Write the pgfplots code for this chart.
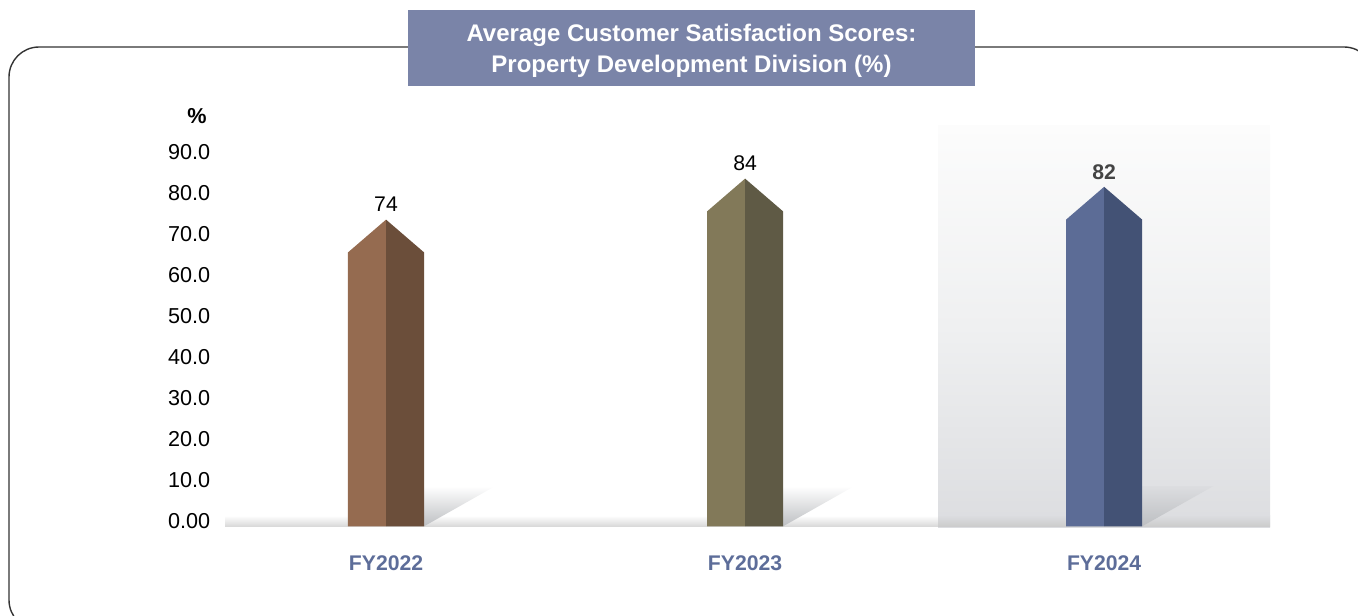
\documentclass[border=0pt]{standalone}
\usepackage{pgfplots}
\pgfplotsset{compat=1.18}
\usepackage{fontspec}
\setmainfont{Liberation Sans}
\definecolor{frame}{HTML}{333333}
\definecolor{titlebox}{HTML}{7A84A8}
\definecolor{fylab}{HTML}{5D6D99}
\definecolor{brL}{HTML}{956B50}
\definecolor{brR}{HTML}{6B4E3A}
\definecolor{olL}{HTML}{827959}
\definecolor{olR}{HTML}{5F5A45}
\definecolor{blL}{HTML}{5C6C96}
\definecolor{blR}{HTML}{435275}
\definecolor{hlTop}{HTML}{FCFCFC}
\definecolor{hlMid}{HTML}{EFF0F1}
\definecolor{hlBot}{HTML}{DCDDE0}
\definecolor{shad}{HTML}{BDBFC2}
\definecolor{numdark}{HTML}{444444}
\begin{document}
\begin{tikzpicture}
\path[use as bounding box] (0,0) rectangle (679pt,-307.5pt);
\begin{scope}
\clip (0,0) rectangle (679pt,-307.5pt);
\begin{scope}[x=0.5pt,y=-0.5pt]
\draw[frame, line width=0.7pt, rounded corners=15pt] (9,47) rectangle (1374,630);
\fill[titlebox] (408,10) rectangle (975,86);
\node[text=white, font=\bfseries\fontsize{12}{15.5}\selectfont, align=center] at (691.5,51) {Average Customer Satisfaction Scores:\\Property Development Division (\%)};
\node[font=\bfseries\fontsize{10.8}{13}\selectfont] at (197,116) {\%};
\end{scope}
\end{scope}
\begin{axis}[
  at={(112.5pt,-265.6pt)}, anchor=south west,
  scale only axis, width=522.5pt, height=202.95pt,
  xmin=-0.4485, xmax=2.462, ymin=-2, ymax=97,
  clip=false,
  axis line style={draw=none},
  major tick length=0pt,
  ytick={0,10,20,30,40,50,60,70,80,90},
  yticklabels={0.00,10.0,20.0,30.0,40.0,50.0,60.0,70.0,80.0,90.0},
  xtick={0,1,2},
  xticklabels={FY2022,FY2023,FY2024},
  /pgf/number format/assume math mode=true,
  yticklabel style={font=\fontsize{10.8}{13}\selectfont, anchor=east, xshift=-3.9pt, yshift=0.8pt},
  xticklabel style={font=\bfseries\fontsize{10.6}{13}\selectfont, text=fylab, anchor=north, yshift=-8.8pt},
]
% highlight background for FY2024
\fill[top color=hlTop, bottom color=hlBot, middle color=hlMid] (axis cs:1.5376,-1) rectangle (axis cs:2.462,97);
% baseline band
\fill[top color=white, bottom color=black!15] (axis cs:-0.4485,-0.8) rectangle (axis cs:1.5376,1.8);
\fill[top color=hlBot, bottom color=black!20] (axis cs:1.5376,-0.8) rectangle (axis cs:2.462,1.8);
% shadows
\addplot[draw=none, top color=white, bottom color=shad] coordinates {(0.106,9) (0.304,9) (0.106,-0.8)} -- cycle;
\addplot[draw=none, top color=white, bottom color=shad] coordinates {(1.106,9) (1.304,9) (1.106,-0.8)} -- cycle;
\addplot[draw=none, top color=hlBot, bottom color=shad] coordinates {(2.106,9) (2.304,9) (2.106,-0.8)} -- cycle;
% bars FY2022
\addplot[draw=none, fill=brL] coordinates {(-0.106,-0.8) (-0.106,66) (0,74) (0,-0.8)} -- cycle;
\addplot[draw=none, fill=brR] coordinates {(0,-0.8) (0,74) (0.106,66) (0.106,-0.8)} -- cycle;
% bars FY2023
\addplot[draw=none, fill=olL] coordinates {(0.894,-0.8) (0.894,76) (1,84) (1,-0.8)} -- cycle;
\addplot[draw=none, fill=olR] coordinates {(1,-0.8) (1,84) (1.106,76) (1.106,-0.8)} -- cycle;
% bars FY2024
\addplot[draw=none, fill=blL] coordinates {(1.894,-0.8) (1.894,74) (2,82) (2,-0.8)} -- cycle;
\addplot[draw=none, fill=blR] coordinates {(2,-0.8) (2,82) (2.106,74) (2.106,-0.8)} -- cycle;
% value labels
\addplot[draw=none, nodes near coords, point meta=explicit symbolic,
  nodes near coords style={anchor=base, yshift=4pt, font=\fontsize{10.6}{13}\selectfont}]
  coordinates {(0,74)[74] (1,84)[84]};
\addplot[draw=none, nodes near coords, point meta=explicit symbolic,
  nodes near coords style={anchor=base, yshift=3.5pt, text=numdark, font=\bfseries\fontsize{10.6}{13}\selectfont}]
  coordinates {(2,82)[82]};
\end{axis}
\end{tikzpicture}
\end{document}
